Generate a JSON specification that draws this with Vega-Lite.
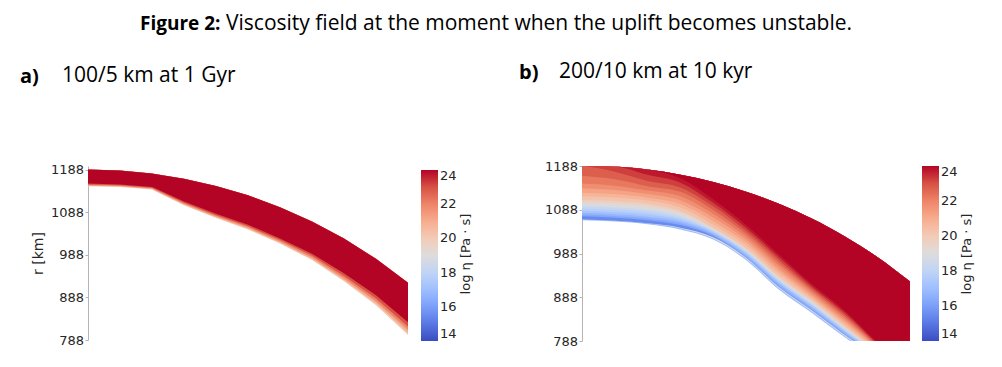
{
  "$schema": "https://vega.github.io/schema/vega-lite/v6.json",
  "background": "white",
  "padding": {"left": 20, "right": 0, "top": 13, "bottom": 0},
  "config": {
    "view": {"stroke": null},
    "axis": {"labelFont": "DejaVu Sans", "labelFontSize": 13, "labelColor": "#262626", "domainColor": "#b5b5b5", "tickColor": "#b5b5b5", "tickSize": 3, "labelPadding": 1.5, "grid": false, "titleFont": "DejaVu Sans", "titleFontSize": 14, "titleFontWeight": "normal", "titleColor": "#262626", "format": "d"},
    "legend": {"labelFont": "DejaVu Sans", "labelFontSize": 13, "labelColor": "#262626", "titleFont": "DejaVu Sans", "titleFontSize": 13, "titleFontWeight": "normal", "titleColor": "#262626", "gradientThickness": 17, "gradientStrokeWidth": 0, "labelBaseline": "middle", "labelOffset": 3, "titleOrient": "right", "titleAnchor": "middle", "titlePadding": 3, "direction": "vertical", "labelOverlap": false},
    "title": {"font": "Open Sans", "color": "#000000"}
  },
  "datasets": {
    "panelA": [
      {"x":0,"v":20,"lo":1150,"top":1189},{"x":0,"v":21,"lo":1151,"top":1189},{"x":0,"v":22,"lo":1152.4,"top":1189},{"x":0,"v":23,"lo":1154,"top":1189},{"x":0,"v":24,"lo":1156,"top":1189},
      {"x":75,"v":20,"lo":1148,"top":1186.6},{"x":75,"v":21,"lo":1149,"top":1186.6},{"x":75,"v":22,"lo":1150.4,"top":1186.6},{"x":75,"v":23,"lo":1152,"top":1186.6},{"x":75,"v":24,"lo":1154,"top":1186.6},
      {"x":150,"v":20,"lo":1142,"top":1179.5},{"x":150,"v":21,"lo":1143,"top":1179.5},{"x":150,"v":22,"lo":1144.4,"top":1179.5},{"x":150,"v":23,"lo":1146,"top":1179.5},{"x":150,"v":24,"lo":1148,"top":1179.5},
      {"x":160,"v":20,"lo":1137,"top":1178.2},{"x":160,"v":21,"lo":1138.1,"top":1178.2},{"x":160,"v":22,"lo":1139.7,"top":1178.2},{"x":160,"v":23,"lo":1141.5,"top":1178.2},{"x":160,"v":24,"lo":1143.8,"top":1178.2},
      {"x":225,"v":20,"lo":1105,"top":1167.5},{"x":225,"v":21,"lo":1106.4,"top":1167.5},{"x":225,"v":22,"lo":1108.6,"top":1167.5},{"x":225,"v":23,"lo":1111,"top":1167.5},{"x":225,"v":24,"lo":1114,"top":1167.5},
      {"x":300,"v":20,"lo":1075,"top":1150.5},{"x":300,"v":21,"lo":1076.6,"top":1150.5},{"x":300,"v":22,"lo":1078.9,"top":1150.5},{"x":300,"v":23,"lo":1081.5,"top":1150.5},{"x":300,"v":24,"lo":1084.8,"top":1150.5},
      {"x":375,"v":20,"lo":1048,"top":1128.4},{"x":375,"v":21,"lo":1049.8,"top":1128.4},{"x":375,"v":22,"lo":1052.5,"top":1128.4},{"x":375,"v":23,"lo":1055.5,"top":1128.4},{"x":375,"v":24,"lo":1059.3,"top":1128.4},
      {"x":450,"v":20,"lo":1015,"top":1100.6},{"x":450,"v":21,"lo":1016.9,"top":1100.6},{"x":450,"v":22,"lo":1019.8,"top":1100.6},{"x":450,"v":23,"lo":1023,"top":1100.6},{"x":450,"v":24,"lo":1027,"top":1100.6},
      {"x":525,"v":20,"lo":976,"top":1066.9},{"x":525,"v":21,"lo":978.4,"top":1066.9},{"x":525,"v":22,"lo":982,"top":1066.9},{"x":525,"v":23,"lo":986,"top":1066.9},{"x":525,"v":24,"lo":991,"top":1066.9},
      {"x":600,"v":20,"lo":926,"top":1026.6},{"x":600,"v":21,"lo":929,"top":1026.6},{"x":600,"v":22,"lo":933.5,"top":1026.6},{"x":600,"v":23,"lo":938.5,"top":1026.6},{"x":600,"v":24,"lo":944.8,"top":1026.6},
      {"x":675,"v":20,"lo":870,"top":979},{"x":675,"v":21,"lo":873.7,"top":979},{"x":675,"v":22,"lo":879.3,"top":979},{"x":675,"v":23,"lo":885.5,"top":979},{"x":675,"v":24,"lo":893.3,"top":979},
      {"x":750,"v":20,"lo":800,"top":922.8},{"x":750,"v":21,"lo":804.8,"top":922.8},{"x":750,"v":22,"lo":812,"top":922.8},{"x":750,"v":23,"lo":820,"top":922.8},{"x":750,"v":24,"lo":830,"top":922.8}
    ],
    "panelB": [
      {"x":0,"v":17,"lo":1064,"top":1189},{"x":0,"v":19,"lo":1066,"top":1189},{"x":0,"v":15.5,"lo":1066,"top":1189},{"x":0,"v":16.25,"lo":1073,"top":1189},{"x":0,"v":16.75,"lo":1077,"top":1189},{"x":0,"v":17.25,"lo":1081,"top":1189},{"x":0,"v":17.75,"lo":1086,"top":1189},{"x":0,"v":18.25,"lo":1091,"top":1189},{"x":0,"v":18.75,"lo":1096,"top":1189},{"x":0,"v":19.25,"lo":1101,"top":1189},{"x":0,"v":19.75,"lo":1106,"top":1189},{"x":0,"v":20.25,"lo":1111,"top":1189},{"x":0,"v":20.75,"lo":1119,"top":1189},{"x":0,"v":21.25,"lo":1127,"top":1189},{"x":0,"v":21.75,"lo":1137,"top":1189},{"x":0,"v":22.25,"lo":1148,"top":1189},{"x":0,"v":22.75,"lo":1166,"top":1189},{"x":0,"v":23.25,"lo":1189,"top":1189},{"x":0,"v":23.75,"lo":1189,"top":1189},{"x":0,"v":24,"lo":1189,"top":1189},
      {"x":75,"v":17,"lo":1061,"top":1187},{"x":75,"v":19,"lo":1063,"top":1187},{"x":75,"v":15.5,"lo":1063,"top":1187},{"x":75,"v":16.25,"lo":1070,"top":1187},{"x":75,"v":16.75,"lo":1074,"top":1187},{"x":75,"v":17.25,"lo":1078,"top":1187},{"x":75,"v":17.75,"lo":1083,"top":1187},{"x":75,"v":18.25,"lo":1088,"top":1187},{"x":75,"v":18.75,"lo":1093,"top":1187},{"x":75,"v":19.25,"lo":1098,"top":1187},{"x":75,"v":19.75,"lo":1103,"top":1187},{"x":75,"v":20.25,"lo":1108,"top":1187},{"x":75,"v":20.75,"lo":1116,"top":1187},{"x":75,"v":21.25,"lo":1124,"top":1187},{"x":75,"v":21.75,"lo":1133,"top":1187},{"x":75,"v":22.25,"lo":1143,"top":1187},{"x":75,"v":22.75,"lo":1158,"top":1187},{"x":75,"v":23.25,"lo":1175,"top":1187},{"x":75,"v":23.75,"lo":1187,"top":1187},{"x":75,"v":24,"lo":1187,"top":1187},
      {"x":150,"v":17,"lo":1055,"top":1180},{"x":150,"v":19,"lo":1057,"top":1180},{"x":150,"v":15.5,"lo":1057,"top":1180},{"x":150,"v":16.25,"lo":1064,"top":1180},{"x":150,"v":16.75,"lo":1068,"top":1180},{"x":150,"v":17.25,"lo":1072,"top":1180},{"x":150,"v":17.75,"lo":1077,"top":1180},{"x":150,"v":18.25,"lo":1082,"top":1180},{"x":150,"v":18.75,"lo":1087,"top":1180},{"x":150,"v":19.25,"lo":1092,"top":1180},{"x":150,"v":19.75,"lo":1097,"top":1180},{"x":150,"v":20.25,"lo":1102,"top":1180},{"x":150,"v":20.75,"lo":1109,"top":1180},{"x":150,"v":21.25,"lo":1116,"top":1180},{"x":150,"v":21.75,"lo":1124,"top":1180},{"x":150,"v":22.25,"lo":1132,"top":1180},{"x":150,"v":22.75,"lo":1142,"top":1180},{"x":150,"v":23.25,"lo":1154,"top":1180},{"x":150,"v":23.75,"lo":1168,"top":1180},{"x":150,"v":24,"lo":1180,"top":1180},
      {"x":225,"v":17,"lo":1043,"top":1168},{"x":225,"v":19,"lo":1046,"top":1168},{"x":225,"v":15.5,"lo":1047,"top":1168},{"x":225,"v":16.25,"lo":1053,"top":1168},{"x":225,"v":16.75,"lo":1057,"top":1168},{"x":225,"v":17.25,"lo":1061,"top":1168},{"x":225,"v":17.75,"lo":1065,"top":1168},{"x":225,"v":18.25,"lo":1069,"top":1168},{"x":225,"v":18.75,"lo":1073,"top":1168},{"x":225,"v":19.25,"lo":1077,"top":1168},{"x":225,"v":19.75,"lo":1081,"top":1168},{"x":225,"v":20.25,"lo":1085,"top":1168},{"x":225,"v":20.75,"lo":1093,"top":1168},{"x":225,"v":21.25,"lo":1101,"top":1168},{"x":225,"v":21.75,"lo":1110,"top":1168},{"x":225,"v":22.25,"lo":1119,"top":1168},{"x":225,"v":22.75,"lo":1129,"top":1168},{"x":225,"v":23.25,"lo":1139,"top":1168},{"x":225,"v":23.75,"lo":1150,"top":1168},{"x":225,"v":24,"lo":1160,"top":1168},
      {"x":300,"v":17,"lo":1020,"top":1151.6},{"x":300,"v":19,"lo":1022.5,"top":1151.6},{"x":300,"v":15.5,"lo":1025,"top":1151.6},{"x":300,"v":16.25,"lo":1028,"top":1151.6},{"x":300,"v":16.75,"lo":1031,"top":1151.6},{"x":300,"v":17.25,"lo":1034,"top":1151.6},{"x":300,"v":17.75,"lo":1036.5,"top":1151.6},{"x":300,"v":18.25,"lo":1039,"top":1151.6},{"x":300,"v":18.75,"lo":1041,"top":1151.6},{"x":300,"v":19.25,"lo":1043,"top":1151.6},{"x":300,"v":19.75,"lo":1045,"top":1151.6},{"x":300,"v":20.25,"lo":1046.5,"top":1151.6},{"x":300,"v":20.75,"lo":1054,"top":1151.6},{"x":300,"v":21.25,"lo":1062,"top":1151.6},{"x":300,"v":21.75,"lo":1070.5,"top":1151.6},{"x":300,"v":22.25,"lo":1079,"top":1151.6},{"x":300,"v":22.75,"lo":1087.5,"top":1151.6},{"x":300,"v":23.25,"lo":1096,"top":1151.6},{"x":300,"v":23.75,"lo":1104,"top":1151.6},{"x":300,"v":24,"lo":1112,"top":1151.6},
      {"x":375,"v":17,"lo":973,"top":1129.4},{"x":375,"v":19,"lo":976,"top":1129.4},{"x":375,"v":15.5,"lo":979,"top":1129.4},{"x":375,"v":16.25,"lo":979,"top":1129.4},{"x":375,"v":16.75,"lo":982.5,"top":1129.4},{"x":375,"v":17.25,"lo":986,"top":1129.4},{"x":375,"v":17.75,"lo":989,"top":1129.4},{"x":375,"v":18.25,"lo":992,"top":1129.4},{"x":375,"v":18.75,"lo":994,"top":1129.4},{"x":375,"v":19.25,"lo":996,"top":1129.4},{"x":375,"v":19.75,"lo":998,"top":1129.4},{"x":375,"v":20.25,"lo":1000,"top":1129.4},{"x":375,"v":20.75,"lo":1006.5,"top":1129.4},{"x":375,"v":21.25,"lo":1013,"top":1129.4},{"x":375,"v":21.75,"lo":1020,"top":1129.4},{"x":375,"v":22.25,"lo":1027,"top":1129.4},{"x":375,"v":22.75,"lo":1033.5,"top":1129.4},{"x":375,"v":23.25,"lo":1040,"top":1129.4},{"x":375,"v":23.75,"lo":1047,"top":1129.4},{"x":375,"v":24,"lo":1053.5,"top":1129.4},
      {"x":450,"v":17,"lo":905.5,"top":1101.6},{"x":450,"v":19,"lo":909,"top":1101.6},{"x":450,"v":15.5,"lo":912,"top":1101.6},{"x":450,"v":16.25,"lo":912,"top":1101.6},{"x":450,"v":16.75,"lo":916,"top":1101.6},{"x":450,"v":17.25,"lo":920,"top":1101.6},{"x":450,"v":17.75,"lo":923,"top":1101.6},{"x":450,"v":18.25,"lo":926,"top":1101.6},{"x":450,"v":18.75,"lo":928.5,"top":1101.6},{"x":450,"v":19.25,"lo":931,"top":1101.6},{"x":450,"v":19.75,"lo":933,"top":1101.6},{"x":450,"v":20.25,"lo":935,"top":1101.6},{"x":450,"v":20.75,"lo":941.5,"top":1101.6},{"x":450,"v":21.25,"lo":948,"top":1101.6},{"x":450,"v":21.75,"lo":954.5,"top":1101.6},{"x":450,"v":22.25,"lo":961,"top":1101.6},{"x":450,"v":22.75,"lo":967.5,"top":1101.6},{"x":450,"v":23.25,"lo":974,"top":1101.6},{"x":450,"v":23.75,"lo":980,"top":1101.6},{"x":450,"v":24,"lo":986.5,"top":1101.6},
      {"x":525,"v":17,"lo":852.5,"top":1067.9},{"x":525,"v":19,"lo":856,"top":1067.9},{"x":525,"v":15.5,"lo":859,"top":1067.9},{"x":525,"v":16.25,"lo":859,"top":1067.9},{"x":525,"v":16.75,"lo":862.5,"top":1067.9},{"x":525,"v":17.25,"lo":866,"top":1067.9},{"x":525,"v":17.75,"lo":869,"top":1067.9},{"x":525,"v":18.25,"lo":872,"top":1067.9},{"x":525,"v":18.75,"lo":874.5,"top":1067.9},{"x":525,"v":19.25,"lo":877,"top":1067.9},{"x":525,"v":19.75,"lo":879,"top":1067.9},{"x":525,"v":20.25,"lo":881,"top":1067.9},{"x":525,"v":20.75,"lo":885.5,"top":1067.9},{"x":525,"v":21.25,"lo":890,"top":1067.9},{"x":525,"v":21.75,"lo":895,"top":1067.9},{"x":525,"v":22.25,"lo":900,"top":1067.9},{"x":525,"v":22.75,"lo":904.5,"top":1067.9},{"x":525,"v":23.25,"lo":909,"top":1067.9},{"x":525,"v":23.75,"lo":914,"top":1067.9},{"x":525,"v":24,"lo":918.6,"top":1067.9},
      {"x":600,"v":17,"lo":797,"top":1027.7},{"x":600,"v":19,"lo":800,"top":1027.7},{"x":600,"v":15.5,"lo":803,"top":1027.7},{"x":600,"v":16.25,"lo":803,"top":1027.7},{"x":600,"v":16.75,"lo":806,"top":1027.7},{"x":600,"v":17.25,"lo":809,"top":1027.7},{"x":600,"v":17.75,"lo":811.5,"top":1027.7},{"x":600,"v":18.25,"lo":814,"top":1027.7},{"x":600,"v":18.75,"lo":816,"top":1027.7},{"x":600,"v":19.25,"lo":818,"top":1027.7},{"x":600,"v":19.75,"lo":820,"top":1027.7},{"x":600,"v":20.25,"lo":822,"top":1027.7},{"x":600,"v":20.75,"lo":826.5,"top":1027.7},{"x":600,"v":21.25,"lo":831,"top":1027.7},{"x":600,"v":21.75,"lo":835.5,"top":1027.7},{"x":600,"v":22.25,"lo":840,"top":1027.7},{"x":600,"v":22.75,"lo":844.5,"top":1027.7},{"x":600,"v":23.25,"lo":849,"top":1027.7},{"x":600,"v":23.75,"lo":853.5,"top":1027.7},{"x":600,"v":24,"lo":858,"top":1027.7},
      {"x":675,"v":17,"lo":744,"top":980},{"x":675,"v":19,"lo":747,"top":980},{"x":675,"v":15.5,"lo":750,"top":980},{"x":675,"v":16.25,"lo":750,"top":980},{"x":675,"v":16.75,"lo":752.5,"top":980},{"x":675,"v":17.25,"lo":755,"top":980},{"x":675,"v":17.75,"lo":757,"top":980},{"x":675,"v":18.25,"lo":759,"top":980},{"x":675,"v":18.75,"lo":760.5,"top":980},{"x":675,"v":19.25,"lo":762,"top":980},{"x":675,"v":19.75,"lo":763.5,"top":980},{"x":675,"v":20.25,"lo":765,"top":980},{"x":675,"v":20.75,"lo":767.5,"top":980},{"x":675,"v":21.25,"lo":770,"top":980},{"x":675,"v":21.75,"lo":772.5,"top":980},{"x":675,"v":22.25,"lo":775,"top":980},{"x":675,"v":22.75,"lo":777.5,"top":980},{"x":675,"v":23.25,"lo":780,"top":980},{"x":675,"v":23.75,"lo":782.5,"top":980},{"x":675,"v":24,"lo":785,"top":980},
      {"x":750,"v":17,"lo":690,"top":923.9},{"x":750,"v":19,"lo":693,"top":923.9},{"x":750,"v":15.5,"lo":696,"top":923.9},{"x":750,"v":16.25,"lo":696,"top":923.9},{"x":750,"v":16.75,"lo":698,"top":923.9},{"x":750,"v":17.25,"lo":700,"top":923.9},{"x":750,"v":17.75,"lo":701.5,"top":923.9},{"x":750,"v":18.25,"lo":703,"top":923.9},{"x":750,"v":18.75,"lo":704.5,"top":923.9},{"x":750,"v":19.25,"lo":706,"top":923.9},{"x":750,"v":19.75,"lo":708,"top":923.9},{"x":750,"v":20.25,"lo":710,"top":923.9},{"x":750,"v":20.75,"lo":710.5,"top":923.9},{"x":750,"v":21.25,"lo":711,"top":923.9},{"x":750,"v":21.75,"lo":711.5,"top":923.9},{"x":750,"v":22.25,"lo":712,"top":923.9},{"x":750,"v":22.75,"lo":712.5,"top":923.9},{"x":750,"v":23.25,"lo":713,"top":923.9},{"x":750,"v":23.75,"lo":714,"top":923.9},{"x":750,"v":24,"lo":715,"top":923.9}
    ]
  },
  "title": {"text": "Figure 2:", "fontSize": 19, "fontWeight": "bold", "anchor": "start", "frame": "group", "dx": 52, "offset": -21},
  "vconcat": [
    {
      "title": {"text": "Viscosity field at the moment when the uplift becomes unstable.", "fontSize": 21, "fontWeight": "normal", "anchor": "start", "frame": "group", "dx": 138, "offset": 27},
      "spacing": 41,
      "resolve": {"scale": {"color": "independent"}, "legend": {"color": "independent"}},
      "hconcat": [
        {
          "title": {"text": "a)", "fontSize": 20, "fontWeight": "bold", "anchor": "start", "frame": "group", "dx": -68, "offset": -22},
          "vconcat": [
            {
              "title": {"text": "100/5 km at 1 Gyr", "fontSize": 21, "fontWeight": "normal", "anchor": "start", "frame": "group", "dx": -26, "offset": 78},
              "width": 320,
              "height": 174,
              "data": {"name": "panelA"},
              "mark": {"type": "area", "interpolate": "linear", "clip": true},
              "encoding": {
                "x": {"field": "x", "type": "quantitative", "scale": {"domain": [0, 750], "nice": false, "zero": false}, "axis": null},
                "y": {"field": "lo", "type": "quantitative", "scale": {"domain": [788, 1197.4], "nice": false, "zero": false}, "axis": {"values": [788, 888, 988, 1088, 1188], "title": "r [km]", "titlePadding": 5}},
                "y2": {"field": "top"},
                "color": {"field": "v", "type": "quantitative", "scale": {"domain": [14, 15, 16, 17, 18, 19, 20, 21, 22, 23, 24], "range": ["#3b4cc0", "#5977e3", "#7b9ff9", "#9ebeff", "#c0d4f5", "#dddcdc", "#f2cbb7", "#f7ac8e", "#ee8468", "#d65244", "#b40426"], "interpolate": "rgb"}, "legend": {"title": "log η [Pa · s]", "values": [14, 16, 18, 20, 22, 24], "gradientLength": 171, "padding": 4, "offset": 9, "encode": {"title": {"update": {"angle": {"value": 270}, "baseline": {"value": "top"}}}}}},
                "detail": {"field": "v", "type": "nominal"}
              }
            }
          ]
        },
        {
          "title": {"text": "b)", "fontSize": 20, "fontWeight": "bold", "anchor": "start", "frame": "group", "dx": -63, "offset": -22},
          "vconcat": [
            {
              "title": {"text": "200/10 km at 10 kyr", "fontSize": 21, "fontWeight": "normal", "anchor": "start", "frame": "group", "dx": -23, "offset": 78},
              "width": 328,
              "height": 175,
              "data": {"name": "panelB"},
              "mark": {"type": "area", "interpolate": "monotone", "clip": true},
              "encoding": {
                "x": {"field": "x", "type": "quantitative", "scale": {"domain": [0, 750], "nice": false, "zero": false}, "axis": null},
                "y": {"field": "lo", "type": "quantitative", "scale": {"domain": [788, 1188], "nice": false, "zero": false}, "axis": {"values": [788, 888, 988, 1088, 1188], "title": null}},
                "y2": {"field": "top"},
                "color": {"field": "v", "type": "quantitative", "scale": {"domain": [14, 15, 16, 17, 18, 19, 20, 21, 22, 23, 24], "range": ["#3b4cc0", "#5977e3", "#7b9ff9", "#9ebeff", "#c0d4f5", "#dddcdc", "#f2cbb7", "#f7ac8e", "#ee8468", "#d65244", "#b40426"], "interpolate": "rgb"}, "legend": {"title": "log η [Pa · s]", "values": [14, 16, 18, 20, 22, 24], "gradientLength": 175, "padding": 0, "offset": 12, "encode": {"title": {"update": {"angle": {"value": 270}, "baseline": {"value": "top"}}}}}},
                "detail": {"field": "v", "type": "nominal"}
              }
            }
          ]
        }
      ]
    }
  ]
}
